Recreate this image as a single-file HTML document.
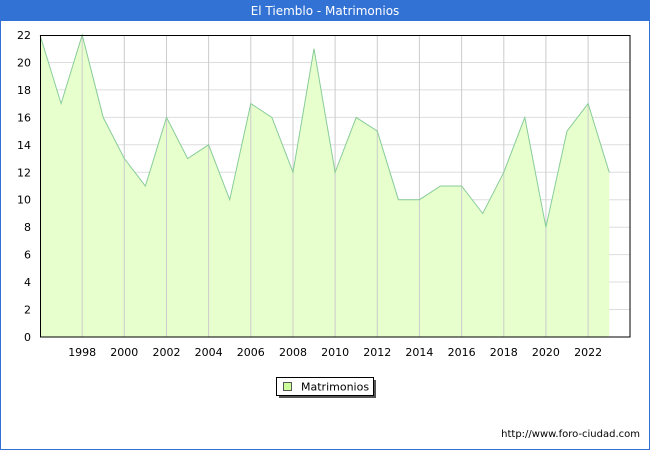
<!DOCTYPE html>
<html><head><style>
body{margin:0;width:650px;height:450px;overflow:hidden;font-family:"DejaVu Sans","Liberation Sans",sans-serif;}
</style></head><body>
<svg width="650" height="450" xmlns="http://www.w3.org/2000/svg" font-family="DejaVu Sans, Liberation Sans, sans-serif">
<rect x="0" y="0" width="650" height="450" fill="#fff"/>
<rect x="0.5" y="0.5" width="649" height="449" fill="none" stroke="#3272d4"/>
<rect x="0" y="0" width="650" height="21" fill="#3272d4"/>
<text x="325" y="15" fill="#fff" font-size="12" text-anchor="middle">El Tiemblo - Matrimonios</text>
<g stroke="#dddddd" stroke-width="1">
<line x1="40" x2="630" y1="309.5" y2="309.5"/><line x1="40" x2="630" y1="282" y2="282"/><line x1="40" x2="630" y1="254.6" y2="254.6"/><line x1="40" x2="630" y1="227.2" y2="227.2"/><line x1="40" x2="630" y1="199.7" y2="199.7"/><line x1="40" x2="630" y1="172.3" y2="172.3"/><line x1="40" x2="630" y1="144.8" y2="144.8"/><line x1="40" x2="630" y1="117.4" y2="117.4"/><line x1="40" x2="630" y1="89.9" y2="89.9"/><line x1="40" x2="630" y1="62.5" y2="62.5"/>
</g>
<polygon fill="#e6ffcc" points="40,337 40,35 61.1,103.6 82.2,35 103.2,117.4 124.3,158.5 145.4,186 166.5,117.4 187.6,158.5 208.6,144.8 229.7,199.7 250.8,103.6 271.9,117.4 293,172.3 314,48.7 335.1,172.3 356.2,117.4 377.3,131.1 398.4,199.7 419.4,199.7 440.5,186 461.6,186 482.7,213.5 503.8,172.3 524.8,117.4 545.9,227.2 567,131.1 588.1,103.6 609.2,172.3 609.2,337"/>
<g stroke="#cccccc" stroke-width="1">
<line x1="82.2" x2="82.2" y1="35" y2="337"/><line x1="124.3" x2="124.3" y1="35" y2="337"/><line x1="166.5" x2="166.5" y1="35" y2="337"/><line x1="208.6" x2="208.6" y1="35" y2="337"/><line x1="250.8" x2="250.8" y1="35" y2="337"/><line x1="293" x2="293" y1="35" y2="337"/><line x1="335.1" x2="335.1" y1="35" y2="337"/><line x1="377.3" x2="377.3" y1="35" y2="337"/><line x1="419.4" x2="419.4" y1="35" y2="337"/><line x1="461.6" x2="461.6" y1="35" y2="337"/><line x1="503.8" x2="503.8" y1="35" y2="337"/><line x1="545.9" x2="545.9" y1="35" y2="337"/><line x1="588.1" x2="588.1" y1="35" y2="337"/>
</g>
<polyline fill="none" stroke="#88cc99" stroke-width="1" points="40,35 61.1,103.6 82.2,35 103.2,117.4 124.3,158.5 145.4,186 166.5,117.4 187.6,158.5 208.6,144.8 229.7,199.7 250.8,103.6 271.9,117.4 293,172.3 314,48.7 335.1,172.3 356.2,117.4 377.3,131.1 398.4,199.7 419.4,199.7 440.5,186 461.6,186 482.7,213.5 503.8,172.3 524.8,117.4 545.9,227.2 567,131.1 588.1,103.6 609.2,172.3"/>
<rect x="40.5" y="35.5" width="589.5" height="301.5" fill="none" stroke="#000"/>
<g font-size="11" fill="#000" text-anchor="end">
<text x="31" y="341">0</text><text x="31" y="313.5">2</text><text x="31" y="286">4</text><text x="31" y="258.6">6</text><text x="31" y="231.2">8</text><text x="31" y="203.7">10</text><text x="31" y="176.3">12</text><text x="31" y="148.8">14</text><text x="31" y="121.4">16</text><text x="31" y="93.9">18</text><text x="31" y="66.5">20</text><text x="31" y="39">22</text>
</g>
<g font-size="11" fill="#000" text-anchor="middle">
<text x="82.2" y="356">1998</text><text x="124.3" y="356">2000</text><text x="166.5" y="356">2002</text><text x="208.6" y="356">2004</text><text x="250.8" y="356">2006</text><text x="293" y="356">2008</text><text x="335.1" y="356">2010</text><text x="377.3" y="356">2012</text><text x="419.4" y="356">2014</text><text x="461.6" y="356">2016</text><text x="503.8" y="356">2018</text><text x="545.9" y="356">2020</text><text x="588.1" y="356">2022</text>
</g>
<rect x="279" y="380" width="97" height="18" fill="#555"/>
<rect x="276.5" y="377.5" width="97" height="18" fill="#fff" stroke="#000"/>
<rect x="283.5" y="382.5" width="8" height="8" fill="#ccff99" stroke="#555"/>
<text x="301" y="390.5" font-size="11">Matrimonios</text>
<text x="640" y="437" font-size="10" text-anchor="end">http://www.foro-ciudad.com</text>
</svg>
</body></html>
